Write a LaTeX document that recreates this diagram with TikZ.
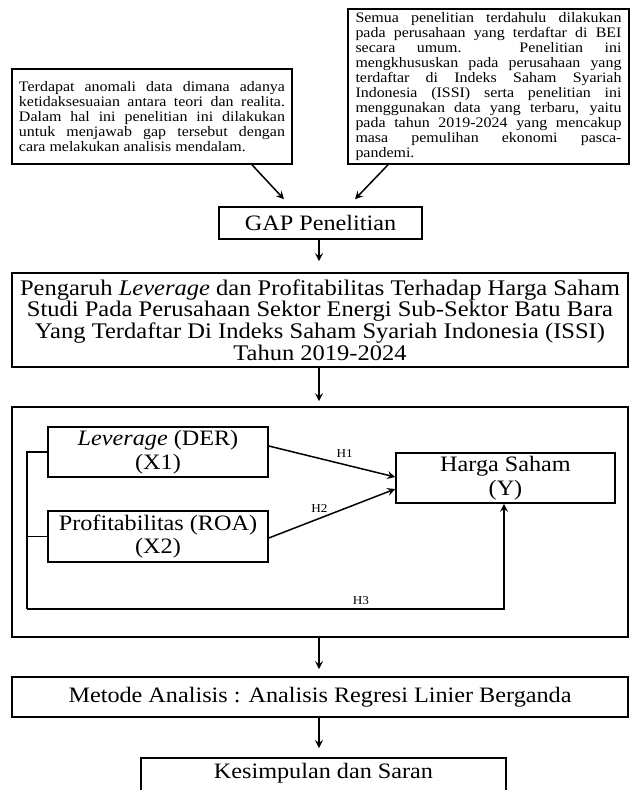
\documentclass[tikz,border=0pt]{standalone}
\usepackage{fontspec}
\setmainfont{Liberation Serif}[FakeStretch=1.1]
\usetikzlibrary{arrows.meta,calc}
\newcommand{\jline}[1]{\makebox[266pt][s]{#1}}
\newcommand{\lastline}[1]{\makebox[266pt][l]{#1}}
\tikzset{
  box/.style={draw, line width=1.6pt, rectangle, inner sep=0pt, align=center,
    font=\fontsize{22}{23.5}\selectfont},
  titlebox/.style={box, font=\fontsize{22.3}{21.7}\selectfont},
  smallbox/.style={draw, line width=1.6pt, rectangle, inner sep=0pt, align=left,
    font=\fontsize{14.5}{14.9}\selectfont},
  arr/.style={line width=1.5pt, -{Stealth[length=8pt,width=8pt,inset=3pt]}},
  link/.style={line width=1.5pt},
  hlab/.style={font=\fontsize{12}{12}\selectfont, inner sep=0pt}
}
\begin{document}
\begin{tikzpicture}[x=1pt,y=-1pt]
\useasboundingbox (0,0) rectangle (632,790);
\clip (0,0) rectangle (632,790);
% top boxes
\node[smallbox, minimum width=280pt, minimum height=95pt] (lb) at (152,116.5) {%
\jline{Terdapat anomali data dimana adanya}\\
\jline{ketidaksesuaian antara teori dan realita.}\\
\jline{Dalam hal ini penelitian ini dilakukan}\\
\jline{untuk menjawab gap tersebut dengan}\\
\lastline{cara melakukan analisis mendalam.}};
\node[smallbox, minimum width=281pt, minimum height=155pt] (rb) at (488.5,86.5) {%
\jline{Semua penelitian terdahulu dilakukan}\\
\jline{pada perusahaan yang terdaftar di BEI}\\
\jline{secara umum. Penelitian ini}\\
\jline{mengkhususkan pada perusahaan yang}\\
\jline{terdaftar di Indeks Saham Syariah}\\
\jline{Indonesia (ISSI) serta penelitian ini}\\
\jline{menggunakan data yang terbaru, yaitu}\\
\jline{pada tahun 2019-2024 yang mencakup}\\
\jline{masa pemulihan ekonomi pasca-}\\
\lastline{pandemi.}};
% GAP
\node[box, minimum width=203pt, minimum height=32pt] (gap) at (320.5,223) {GAP Penelitian};
% title
\node[titlebox, minimum width=616pt, minimum height=94pt] (title) at (320,320) {%
Pengaruh \textit{Leverage} dan Profitabilitas Terhadap Harga Saham\\
Studi Pada Perusahaan Sektor Energi Sub-Sektor Batu Bara\\
Yang Terdaftar Di Indeks Saham Syariah Indonesia (ISSI)\\
Tahun 2019-2024};
% frame
\node[draw, line width=1.6pt, minimum width=616pt, minimum height=230pt, inner sep=0pt] (frame) at (320,522) {};
\node[box, minimum width=220pt, minimum height=50pt] (lev) at (158,452) {\textit{Leverage} (DER)\\(X1)};
\node[box, minimum width=220pt, minimum height=51pt] (prof) at (158,536.5) {Profitabilitas (ROA)\\(X2)};
\node[box, minimum width=219pt, minimum height=50pt] (harga) at (505.5,478) {Harga Saham\\(Y)};
% method
\node[box, minimum width=616pt, minimum height=40pt] (met) at (320,697) {Metode Analisis : Analisis Regresi Linier Berganda};
% conclusion (cut off at the bottom)
\node[box, minimum width=365pt, minimum height=34pt, anchor=north] (kes) at (323.5,757) {};
\node[font=\fontsize{22}{23.5}\selectfont, inner sep=0pt] (kest) at (323.5,773) {Kesimpulan dan Saran};
% coordinates
\coordinate (ax) at (319,0);
\coordinate (br) at (27,609);
% top arrows
\draw[arr] ([xshift=100pt]lb.south) -- ([xshift=-36.5pt,yshift=7pt]gap.north);
\draw[arr] ([xshift=-100.5pt]rb.south) -- ([xshift=34.5pt,yshift=7pt]gap.north);
% vertical arrows
\draw[arr, shorten >=11pt] (gap.south -| ax) -- (title.north -| ax);
\draw[arr, shorten >=5pt] (title.south -| ax) -- (frame.north -| ax);
\draw[arr, shorten >=7pt] (frame.south -| ax) -- (met.north -| ax);
\draw[arr, shorten >=9pt] (met.south -| ax) -- (kes.north -| ax);
% hypotheses
\draw[arr] ([yshift=6pt]lev.east) -- node[hlab, pos=0.6, above=6pt] {H1} ([yshift=1pt]harga.west);
\draw[arr] ([yshift=-1.5pt]prof.east) -- node[hlab, pos=0.4, above=5pt] {H2} ([yshift=-11pt]harga.west);
\draw[link] (lev.west) -| (br);
\draw[link] (prof.west) -- (prof.west -| br);
\draw[arr] (br) -| node[hlab, pos=0.35, above=4pt] {H3} ([xshift=-1.5pt]harga.south);
\end{tikzpicture}
\end{document}
